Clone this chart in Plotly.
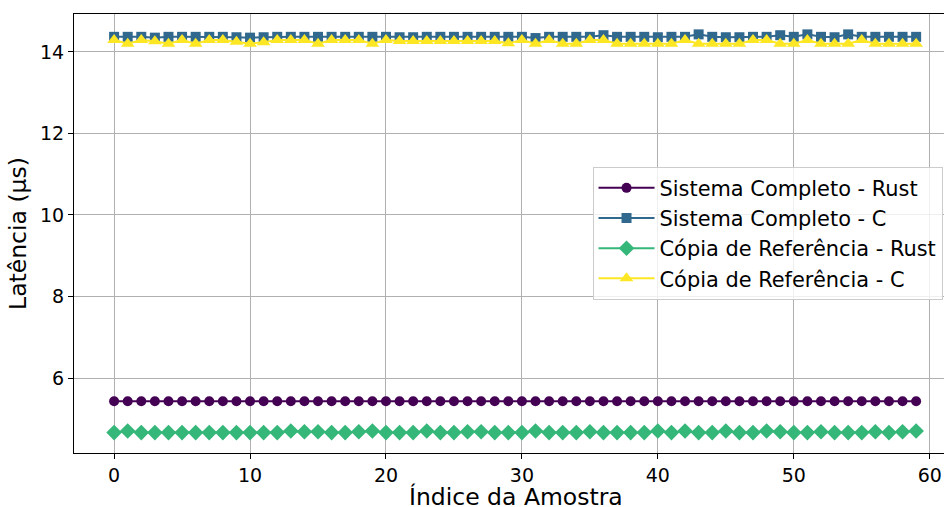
import plotly.graph_objects as go

x_idx = list(range(60))

sistema_rust = [5.43] * 60
sistema_c = [14.37, 14.37, 14.37, 14.35, 14.37, 14.37, 14.37, 14.37, 14.37, 14.36,
             14.35, 14.36, 14.37, 14.37, 14.37, 14.37, 14.37, 14.37, 14.37, 14.37,
             14.37, 14.36, 14.36, 14.37, 14.37, 14.37, 14.37, 14.37, 14.37, 14.37,
             14.37, 14.34, 14.37, 14.37, 14.37, 14.37, 14.41, 14.37, 14.37, 14.37,
             14.36, 14.37, 14.37, 14.43, 14.37, 14.36, 14.36, 14.37, 14.37, 14.41,
             14.37, 14.43, 14.37, 14.36, 14.43, 14.37, 14.37, 14.37, 14.37, 14.37]
copia_c = [14.29, 14.20, 14.29, 14.26, 14.20, 14.29, 14.20, 14.29, 14.29, 14.25,
           14.20, 14.24, 14.29, 14.29, 14.29, 14.20, 14.29, 14.29, 14.29, 14.20,
           14.29, 14.27, 14.27, 14.27, 14.27, 14.27, 14.27, 14.27, 14.27, 14.21,
           14.29, 14.20, 14.29, 14.20, 14.20, 14.29, 14.29, 14.20, 14.20, 14.20,
           14.20, 14.20, 14.29, 14.20, 14.20, 14.20, 14.20, 14.29, 14.29, 14.20,
           14.20, 14.29, 14.20, 14.20, 14.20, 14.29, 14.20, 14.20, 14.20, 14.20]
copia_rust = [4.66, 4.70, 4.66, 4.66, 4.66, 4.66, 4.66, 4.66, 4.66, 4.66,
              4.66, 4.66, 4.66, 4.70, 4.68, 4.68, 4.66, 4.66, 4.68, 4.70,
              4.66, 4.66, 4.66, 4.70, 4.66, 4.66, 4.68, 4.68, 4.66, 4.66,
              4.66, 4.70, 4.66, 4.66, 4.66, 4.68, 4.66, 4.66, 4.66, 4.66,
              4.70, 4.66, 4.70, 4.66, 4.66, 4.70, 4.66, 4.66, 4.70, 4.68,
              4.66, 4.66, 4.68, 4.66, 4.66, 4.66, 4.68, 4.66, 4.68, 4.70]

names = ["Sistema Completo - Rust", "Sistema Completo - C",
         "Cópia de Referência - Rust", "Cópia de Referência - C"]
colors = ["#440154", "#31688e", "#35b779", "#fde725"]
symbols = ["circle", "square", "diamond", "triangle-up"]
sizes = [10, 10, 12, 12]
series = [sistema_rust, sistema_c, copia_rust, copia_c]

fig = go.Figure()
for n, c, s, sz, y in zip(names, colors, symbols, sizes, series):
    fig.add_trace(go.Scatter(
        x=x_idx, y=y, name=n, mode="lines+markers",
        line=dict(color=c, width=2),
        marker=dict(symbol=s, size=sz, color=c, line=dict(width=0)),
    ))

font = "DejaVu Sans"
fig.update_layout(
    width=944, height=507,
    margin=dict(l=74, r=0, t=14, b=54, autoexpand=False),
    paper_bgcolor="white", plot_bgcolor="white",
    font=dict(family=font, size=16, color="black"),
    showlegend=True,
    legend=dict(
        x=0.596, y=0.652, xanchor="left", yanchor="top",
        bgcolor="rgba(255,255,255,0.8)", bordercolor="#cccccc", borderwidth=1,
        font=dict(family=font, size=20.9, color="black"),
        itemwidth=56,
    ),
    xaxis=dict(
        range=[-2.95, 61.05],
        tickvals=[0, 10, 20, 30, 40, 50, 60],
        ticks="outside", ticklen=5, tickcolor="black",
        showline=True, linecolor="black", linewidth=1, mirror=True,
        showgrid=True, gridcolor="#b0b0b0", gridwidth=1,
        zeroline=False,
        tickfont=dict(size=19),
    ),
    yaxis=dict(
        range=[4.16, 14.93],
        tickvals=[6, 8, 10, 12, 14],
        ticks="outside", ticklen=5, tickcolor="black",
        showline=True, linecolor="black", linewidth=1, mirror=False,
        showgrid=True, gridcolor="#b0b0b0", gridwidth=1,
        zeroline=False,
        title=dict(text="Latência (µs)", font=dict(size=23.5), standoff=6),
        tickfont=dict(size=19),
    ),
    annotations=[dict(
        text="Índice da Amostra", xref="paper", yref="paper",
        x=0.508, y=-0.100, xanchor="center", yanchor="middle",
        showarrow=False, font=dict(family=font, size=23.5, color="black"),
    )],
)

fig.write_html("out.html")
